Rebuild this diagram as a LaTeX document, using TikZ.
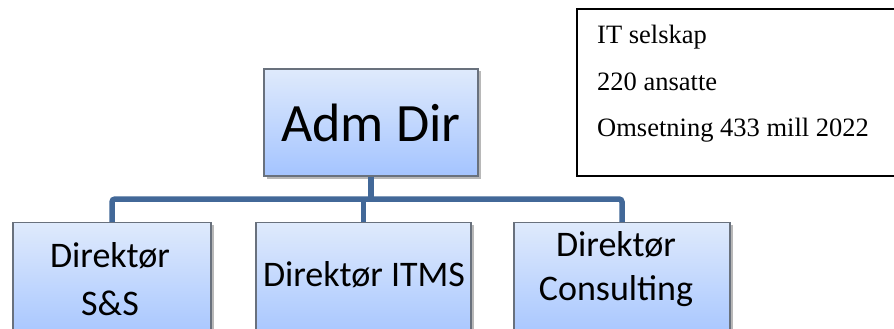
\documentclass[tikz,border=0pt]{standalone}
\usepackage{fontspec}
\setmainfont{Liberation Serif}
\newfontfamily\carlito{Carlito}
\usetikzlibrary{shadows}
\definecolor{boxtop}{RGB}{223,234,252}
\definecolor{boxbot}{RGB}{164,196,255}
\definecolor{boxline}{RGB}{105,113,125}
\definecolor{connc}{RGB}{66,104,152}
\tikzset{
  orgbox/.style={draw=boxline, line width=1.3pt, top color=boxtop, bottom color=boxbot,
    drop shadow={shadow xshift=2.5pt, shadow yshift=-2.5pt, opacity=0.28, fill=black},
    inner sep=0pt},
  dirtext/.style={font=\carlito\fontsize{36}{46}\selectfont, align=center, inner sep=0pt},
  infotext/.style={font=\fontsize{26.5}{30}\selectfont, inner sep=0pt, anchor=base west},
  connline/.style={draw=connc, line width=5.5pt, rounded corners=3pt},
}
\begin{document}
\begin{tikzpicture}[x=1pt,y=-1pt]
\useasboundingbox (0,0) rectangle (894,329);
\clip (0,0) rectangle (894,329);
\fill[white] (0,0) rectangle (894,329);
% info box
\node[draw=black, line width=2pt, minimum width=334pt, minimum height=167pt, anchor=north west, inner sep=0pt] (info) at (576,8) {};
\node[infotext] (it1) at (597,44) {IT selskap};
\node[infotext] (it2) at (597,90) {220 ansatte};
\node[infotext] (it3) at (597,136) {Omsetning 433 mill 2022};
% boxes
\node[orgbox, minimum width=214pt, minimum height=107pt, font=\carlito\fontsize{54}{60}\selectfont] (adm) at (371,122.5) {Adm Dir};
\node[orgbox, minimum width=198pt, minimum height=120pt, anchor=north] (ss) at (112,222) {};
\node[orgbox, minimum width=215pt, minimum height=120pt, anchor=north] (itms) at (363.5,222) {};
\node[orgbox, minimum width=216pt, minimum height=120pt, anchor=north] (cons) at (622,222) {};
% connectors
\coordinate (bus) at (371,199);
\draw[connline] (adm.south) -- (bus);
\draw[connline] (ss.north) |- (bus);
\draw[connline] (cons.north) |- (bus);
\draw[connline] (itms.north) -- (itms.north |- bus);
% texts
\node[dirtext, font=\carlito\fontsize{36}{48}\selectfont] (sstext) at (110,279) {Direktør\\S\&S};
\node[dirtext, anchor=base] (itmstext) at (364,286) {Direktør ITMS};
\node[dirtext, font=\carlito\fontsize{36}{44}\selectfont] (constext) at (616,269) {Direktør\\Consulting};
\end{tikzpicture}
\end{document}
